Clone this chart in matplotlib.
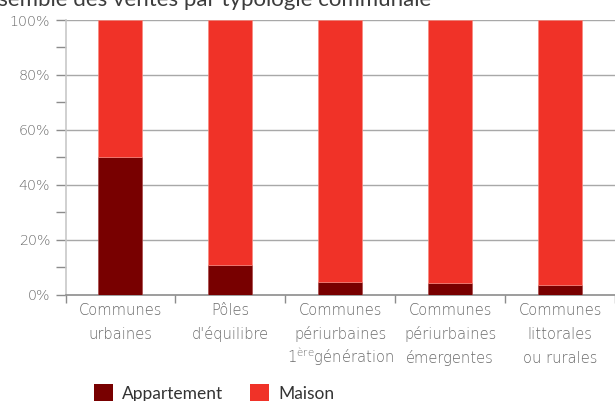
import matplotlib.pyplot as plt
from matplotlib.patches import Rectangle
from matplotlib.ticker import MultipleLocator, FuncFormatter

plt.rcParams['font.family'] = ['Lato', 'DejaVu Sans']
plt.rcParams['mathtext.fontset'] = 'custom'
plt.rcParams['mathtext.rm'] = 'DejaVu Sans:weight=light'

# Share of sales by housing type, per commune typology (%)
categories = [
    ['Communes', 'urbaines'],
    ['Pôles', 'd\'équilibre'],
    ['Communes', 'périurbaines', '1$^{\\mathregular{ère}}$génération'],
    ['Communes', 'périurbaines', 'émergentes'],
    ['Communes', 'littorales', 'ou rurales'],
]
appartement = [50.2, 10.6, 4.6, 4.2, 3.6]
maison = [100 - v for v in appartement]
series_names = ['Appartement', 'Maison']

dark_red = '#780000'
red = '#f03228'
grey = '#8c8c8c'
text_grey = '#6a6a6a'
label_font = dict(family='DejaVu Sans', weight='light', color=text_grey)

W, H = 615, 401
fig = plt.figure(figsize=(W / 100, H / 100), dpi=100)
ax = fig.add_axes([65.5 / W, 1 - 294.5 / H, 1 - 65.5 / W, (294.5 - 20) / H])

x = list(range(len(categories)))
ax.bar(x, appartement, width=0.4, color=dark_red, edgecolor='#a84848', linewidth=0.5, zorder=3)
ax.bar(x, maison, width=0.4, bottom=appartement, color=red, edgecolor='#f88a80',
       linewidth=0.5, zorder=3)

ax.set_xlim(-0.5, len(categories) - 0.5)
ax.set_ylim(0, 100)

# horizontal grid every 20 %
for v in range(20, 101, 20):
    ax.axhline(v, color='#a8a8a8', linewidth=1.0, zorder=1)

ax.yaxis.set_major_locator(MultipleLocator(20))
ax.yaxis.set_minor_locator(MultipleLocator(10))
ax.yaxis.set_major_formatter(FuncFormatter(lambda v, p: f'{v:.0f}%'))
ax.tick_params(axis='y', which='both', length=7, width=1, color=grey, labelcolor=text_grey,
               labelsize=10.3, pad=4)
for lbl in ax.get_yticklabels():
    lbl.set_family('DejaVu Sans')
    lbl.set_weight('light')

# x ticks sit on the category boundaries, labels under the centres
ax.set_xticks([i - 0.5 for i in range(len(categories) + 1)])
ax.set_xticklabels([])
ax.tick_params(axis='x', which='major', length=6, width=1, color=grey)

for i, lines in enumerate(categories):
    for k, line in enumerate(lines):
        ax.annotate(line, xy=(i, 0), xycoords=('data', 'axes fraction'),
                    xytext=(0, -14.6 - 17.3 * k), textcoords='offset points',
                    ha='center', va='baseline', fontsize=10.6, **label_font)

for side in ['top', 'right']:
    ax.spines[side].set_visible(False)
ax.spines['bottom'].set_color(grey)
ax.spines['bottom'].set_linewidth(1.2)
ax.spines['left'].set_color('#c8c8c8')
ax.spines['left'].set_linewidth(1.2)

# legend drawn by hand along the bottom edge
legend_x = [94, 250]
for xp, name, col in zip(legend_x, series_names, [dark_red, red]):
    fig.patches.append(Rectangle((xp / W, 1 - 403 / H), 19 / W, 19 / H,
                                 transform=fig.transFigure, facecolor=col, edgecolor='none'))
    fig.text((xp + 28) / W, 1 - 399 / H, name, fontsize=12.5, color='#333333',
             ha='left', va='baseline')

fig.text(-27 / W, 1 - 6 / H, 'Ensemble des ventes par typologie communale',
         fontsize=16, color='#3c3c3c', va='baseline', ha='left')

fig.savefig('out.png', dpi=100, facecolor='white')
